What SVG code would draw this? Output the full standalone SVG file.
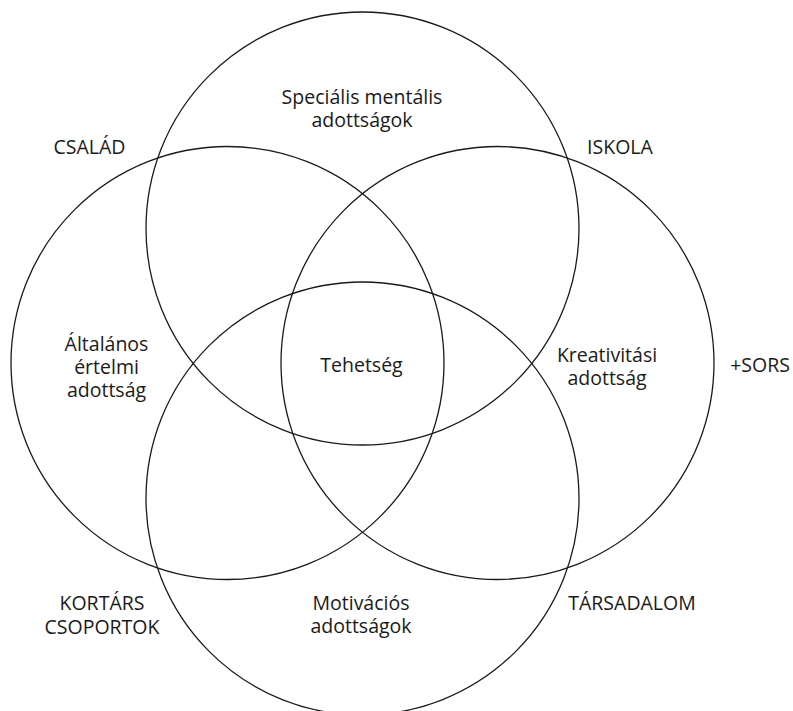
<svg xmlns="http://www.w3.org/2000/svg" width="793" height="711" viewBox="0 0 793 711">
  <style>
    .ring { fill: none; stroke: #1a1a1a; stroke-width: 1.3; }
    .lbl { font-family: "Open Sans", "Noto Sans", "Liberation Sans", sans-serif; font-size: 19.5px; fill: #1a1a1a; text-anchor: middle; }
  </style>
  <rect width="793" height="711" fill="#ffffff"/>

  <!-- four overlapping circles -->
  <g id="circle-special">
    <circle class="ring" cx="362.5" cy="228.5" r="216.5"/>
    <text class="lbl" x="362" y="104">Speciális mentális</text>
    <text class="lbl" x="362" y="127">adottságok</text>
  </g>
  <g id="circle-general">
    <circle class="ring" cx="227.5" cy="363" r="216.5"/>
    <text class="lbl" x="106.5" y="351">Általános</text>
    <text class="lbl" x="106.5" y="374">értelmi</text>
    <text class="lbl" x="106.5" y="397">adottság</text>
  </g>
  <g id="circle-creativity">
    <circle class="ring" cx="497.5" cy="363" r="216.5"/>
    <text class="lbl" x="607" y="362">Kreativitási</text>
    <text class="lbl" x="607" y="385">adottság</text>
  </g>
  <g id="circle-motivation">
    <circle class="ring" cx="362.5" cy="498.5" r="216.5"/>
    <text class="lbl" x="361" y="610">Motivációs</text>
    <text class="lbl" x="361" y="633">adottságok</text>
  </g>

  <!-- centre -->
  <g id="center">
    <text class="lbl" x="361.5" y="372">Tehetség</text>
  </g>

  <!-- surrounding environment labels -->
  <g id="env-family"><text class="lbl" x="89.5" y="154">CSALÁD</text></g>
  <g id="env-school"><text class="lbl" x="620" y="154">ISKOLA</text></g>
  <g id="env-fate"><text class="lbl" x="760" y="372">+SORS</text></g>
  <g id="env-peers">
    <text class="lbl" x="102" y="610">KORTÁRS</text>
    <text class="lbl" x="102" y="634">CSOPORTOK</text>
  </g>
  <g id="env-society"><text class="lbl" x="632" y="610">TÁRSADALOM</text></g>

  <g id="connectors"/>
</svg>
